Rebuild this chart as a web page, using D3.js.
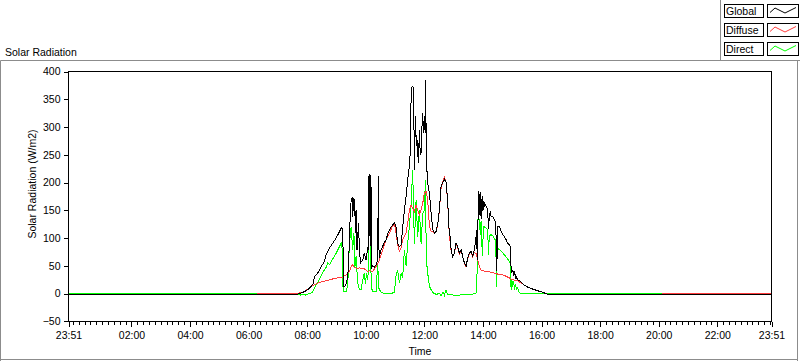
<!DOCTYPE html>
<html><head><meta charset="utf-8">
<script src="https://cdn.jsdelivr.net/npm/d3@7"></script>
<style>
body{margin:0;background:#fff}
svg{display:block}
text{font-family:"Liberation Sans",Arial,sans-serif;font-size:10.5px;fill:#000}
</style>
</head><body><svg id="c" width="800" height="361"></svg>
<script>
const chartTitle = "Solar Radiation";
const yTitle = "Solar Radiation (W/m2)";
const xTitle = "Time";
const seriesNames = ["Global","Diffuse","Direct"];
const seriesColors = ["#000000","#ff3c3c","#00ff00"];
const xTickMinutes = [-9,120,240,360,480,600,720,840,960,1080,1200,1320,1431];
const xTickLabels = ["23:51","02:00","04:00","06:00","08:00","10:00","12:00","14:00","16:00","18:00","20:00","22:00","23:51"];
const yTicks = [-50,0,50,100,150,200,250,300,350,400];

// [minutes after midnight, W/m2]
const globalData = [[-9,-1.8],[457,-1.8],[464,0],[471,2],[481,6.7],[488,12.6],[492.7,18.7],[494.8,30.6],[501.5,36.7],[508.5,48.6],[515.2,57.6],[518.7,69.6],[525.5,81.7],[532.2,90.7],[539.2,99.7],[546,111.6],[550.7,119.5],[552.7,111.6],[554.8,12],[557,12],[560,18.7],[563,30.6],[565,60.7],[568,138.6],[570,168.6],[572,171.7],[573,138.6],[575.7,171.7],[577.3,162.7],[578.7,108.7],[580,150.6],[582,78.7],[585,126.7],[587,78.7],[589,54.7],[593.7,60.7],[597,72.7],[600.6,60.7],[604,81.7],[605.5,80],[606.2,211],[607.5,213],[608.8,85],[610.5,214],[611.8,45],[614,50],[617.6,48],[621,52],[624.4,60],[625.6,212],[627.2,65],[631.3,78.7],[634.6,85],[638,92],[641.6,96.7],[645,108],[648.3,114.6],[651.8,120],[655,123.6],[658.6,127],[662,120],[665.3,90],[668.8,85],[672.3,88],[675.6,120],[679,150],[682.5,175],[685.8,205],[689.3,229],[691.3,260],[692.8,355],[694.5,372],[696.5,373],[698,365],[699.5,222],[701.6,319],[703.6,265],[705,277],[707.7,235],[709.8,295],[711.5,250],[713.3,253],[715,300],[716.6,325],[718,290],[720,320],[721.5,290],[722.5,385],[724,240],[726.8,199],[730.3,181],[733.8,145],[737,115],[740.5,109],[744,112],[747.3,125],[750.7,150],[754.2,193],[757.5,200],[760.9,206],[764.4,200],[767.7,168],[769.7,130],[771.2,106],[773.2,103],[774.7,79],[777.9,67],[781.4,73],[784.9,91],[788.2,85],[791.7,73],[795.2,79],[798.4,67],[801.9,55],[805.4,49],[808.7,64],[812.2,73],[815.6,76],[818.9,67],[822.4,79],[825.9,103],[827,115],[828.2,61],[829.5,105],[830.5,184],[832,178],[834,140],[835.5,183],[837.3,135],[839.4,175],[841.5,150],[843,163],[846.4,157],[849.7,151],[851.2,116],[853.1,139],[855.2,148],[856.6,139],[859.9,139],[862,136],[864.8,130],[866.5,130],[867.2,42],[868.5,42],[869.5,121],[873.6,120.6],[877,112],[880.4,106],[883.9,102.6],[887.3,97],[890.6,91],[894.1,87.7],[896.5,84],[897.6,42.6],[899,36.7],[900.9,43],[903,32],[905,40],[906.3,28],[908,30],[911.1,24.7],[918,21],[924.8,15],[931.6,11.5],[938.5,9],[945.3,7],[952,5],[959,3],[965.8,1],[972.5,-1.8],[1431,-1.8]];

const diffuseData = [[-9,-1.8],[377,-1.8],[378,0],[457,0],[471,1.8],[478,6.7],[484.5,9.6],[491,13.9],[498,17.5],[511.8,21.6],[525.5,24.7],[539,27.7],[552.7,29.5],[559.7,33.7],[566.4,39.6],[570,48.6],[573,51.6],[576,47],[580,45.7],[587,46],[593.7,45.7],[600.6,42.6],[604,39.6],[609,41],[614,39.6],[621,48.6],[628,60.7],[634.6,78.7],[641.6,96.7],[648.3,108.7],[655,121.8],[658.6,126.7],[662,108.7],[665.3,87.7],[668.8,76],[672.3,81.7],[675.6,96.7],[682.5,108.7],[685.8,126.7],[689.3,150.6],[692.8,159.6],[696,153.6],[699.5,147.6],[703,159.6],[706,150],[709.8,141.6],[713,150],[716.6,162.7],[720,180.7],[723.5,183.6],[726.8,168.6],[730.3,120.6],[733.8,111.6],[737,111.6],[740.5,108],[744,111],[747.3,124],[750.7,149],[754.2,190],[757.5,201],[760.9,209],[764.4,200],[767.7,166],[769.7,128],[771.2,104],[774.7,77],[777.9,66],[781.4,72],[784.9,90],[788.2,83],[791.7,71],[795.2,78],[798.4,66],[801.9,54],[805.4,48],[808.7,63],[812.2,72],[815.6,74],[818.9,66],[822.4,74],[826,72],[829.2,60.7],[832.6,49],[836,42.6],[843,40],[853,39],[860,37.8],[867,36],[873.6,34],[880.4,33.7],[887.3,31],[894,28],[897.6,26],[904,24],[911,22.5],[918,19],[925,15],[931.6,11.5],[938.5,9],[945.3,7],[952,5],[959,3],[966,1],[972.5,-1.8],[1207,-1.8],[1208,0],[1431,0]];

const directData = [[-9,0],[377,0],[378,-1.8],[457,-1.8],[462,-1],[467,-3],[472,-1],[477,-3],[482,-1],[488,1],[491.3,3],[498,15],[505,25],[512,38],[518.7,47],[522,55],[525.5,52],[532,62],[539,72],[546,84.6],[549.7,90.7],[551.7,80],[552.7,20],[554,3.6],[560,3.6],[563,15],[566.4,90],[570,120.6],[573,78],[575.7,108.7],[577.7,48],[580,66.6],[583.4,20],[587,6.7],[590.4,6.7],[593.7,24.7],[597,36.7],[599,18],[601.6,36.7],[604,24],[606,60],[607.4,174.6],[609.4,80],[611.5,10],[614,4],[621,3],[624.4,54.7],[626.4,10],[631.3,2],[638,0],[651.8,0],[658.6,2],[662,33.7],[665.3,42],[668.8,18.7],[672.3,36],[675.6,30],[679,78.7],[682.5,50],[685.8,90.7],[689.3,120.6],[692.8,162.7],[696,222.6],[699.5,90],[703,168.6],[706.3,102],[709.8,150.6],[713.3,90],[716.6,144],[720,150],[722,204.6],[724,60],[726.8,36.7],[730.3,12.6],[737,1.8],[740.5,0],[745,-2],[750,1],[754,-4],[758,3],[761,-3],[764,6],[767,-1],[772,-2],[780,-3],[790,-3],[800,-2],[810,-2],[820,-1],[826,1],[828,40],[829.2,132.6],[832.6,134],[834.6,105],[836,130],[838.8,67],[841,120.6],[843,120],[846.4,118],[849.7,115],[851.2,70],[853,104],[856.6,106],[860,104],[863.4,98],[866.5,98],[867,12.6],[868.8,70],[870,81.7],[873.6,79],[880.4,73],[884,69.6],[890.6,62],[894,58],[896,55],[897.6,6.7],[899,25],[901,12],[903,22],[904.3,6.7],[906.3,15],[909,8],[911,10],[913,3],[916.6,0],[1207,0],[1208,-1.8],[1431,-1.8]];

const svg = d3.select("#c");
const frame = "#8c8c8c";
const L = 68.5, R = 771.5, T = 71.5, B = 321.5;
const x = d3.scaleLinear().domain([-9,1431]).range([L,R]);
const y = d3.scaleLinear().domain([-50,400]).range([321.25,71.5]);

// outer frame
svg.append("path").attr("d","M0.5,361 V60.5 H800 M797.5,60.5 V361 M0,359.5 H798 M720.5,0 V60.5")
  .attr("fill","none").attr("stroke",frame).attr("stroke-width",1);

svg.append("text").attr("x",5).attr("y",56).text(chartTitle);

// legend
const lg = svg.append("g");
const legendY = [4.5,23.5,42.5];
seriesNames.forEach((n,i)=>{
  const g = lg.append("g").attr("transform",`translate(0,${legendY[i]})`);
  g.append("rect").attr("x",724.5).attr("y",0).attr("width",39).attr("height",13).attr("fill","#fff").attr("stroke","#000");
  g.append("text").attr("x",726).attr("y",10.5).text(n);
  g.append("rect").attr("x",767.5).attr("y",0).attr("width",31).attr("height",13).attr("fill","#fff").attr("stroke","#000");
  g.append("path").attr("d","M770,8 L775,3.5 L785,8.5 L796,3").attr("fill","none").attr("stroke",seriesColors[i]).attr("stroke-width",1);
});

// clip
svg.append("clipPath").attr("id","pc").append("rect").attr("x",L).attr("y",T).attr("width",R-L).attr("height",B-T);

const line = d3.line().x(d=>x(d[0])).y(d=>y(d[1]));
const plots = svg.append("g").attr("clip-path","url(#pc)");
[[directData,2],[diffuseData,1],[globalData,0]].forEach(([data,i])=>{
  plots.append("path").datum(data).attr("d",line).attr("fill","none")
    .attr("stroke",seriesColors[i]).attr("stroke-width",1).attr("shape-rendering","crispEdges");
});

// plot border
svg.append("rect").attr("x",L).attr("y",T).attr("width",R-L).attr("height",B-T).attr("fill","none").attr("stroke","#000");

// y axis
const ya = svg.append("g").attr("transform",`translate(${L},0)`)
  .call(d3.axisLeft(y).tickValues(yTicks).tickSize(5).tickPadding(3));
ya.select(".domain").remove();
ya.selectAll("text").style("font-family",'"Liberation Sans",Arial,sans-serif').style("font-size","10.5px");
ya.selectAll("line").attr("shape-rendering","crispEdges");

// x axis minor
const minor = d3.range(0,1431,12).filter(m=>xTickMinutes.indexOf(m)<0);
const xm = svg.append("g").attr("transform",`translate(0,${B})`)
  .call(d3.axisBottom(x).tickValues(minor).tickSize(3).tickFormat(""));
xm.select(".domain").remove();
xm.selectAll("line").attr("shape-rendering","crispEdges");
const xa = svg.append("g").attr("transform",`translate(0,${B})`)
  .call(d3.axisBottom(x).tickValues(xTickMinutes).tickSize(5).tickPadding(5).tickFormat((d,i)=>xTickLabels[i]));
xa.select(".domain").remove();
xa.selectAll("text").style("font-family",'"Liberation Sans",Arial,sans-serif').style("font-size","10.5px");
xa.selectAll("line").attr("shape-rendering","crispEdges");

svg.append("text").attr("x",(L+R)/2).attr("y",355).attr("text-anchor","middle").text(xTitle);
svg.append("text").attr("transform",`translate(36,184) rotate(-90)`).attr("text-anchor","middle").text(yTitle);
</script>
</body></html>
